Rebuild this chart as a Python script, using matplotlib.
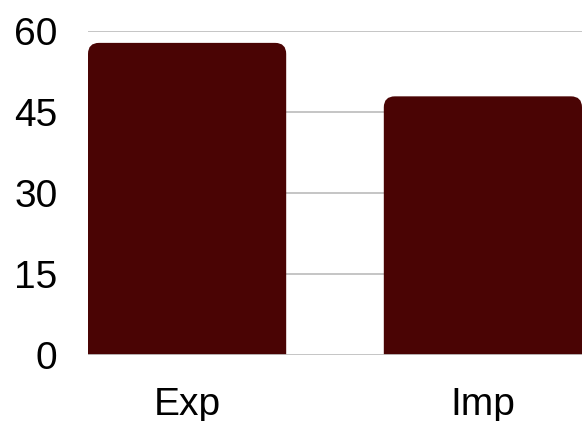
import matplotlib
matplotlib.use("Agg")
import matplotlib.pyplot as plt
from matplotlib.patches import FancyBboxPatch

categories = ["Exp", "Imp"]
values = [57.8, 47.9]
yticks = [0, 15, 30, 45, 60]

W, H = 582, 421
fig = plt.figure(figsize=(W / 100, H / 100), dpi=100)
ax = fig.add_axes([88 / W, (H - 355) / H, (582 - 88) / W, (355 - 31) / H])
plt.rcParams['font.family'] = ['Liberation Sans', 'DejaVu Sans']

bar_w = 0.67
ax.set_xlim(-bar_w / 2, len(categories) - 1 + bar_w / 2)
ax.set_ylim(0, 60)

axw_px = 582 - 88
axh_px = 355 - 31
px_x = axw_px / (len(categories) - 1 + bar_w)  # px per x-unit
px_y = axh_px / 60.0
r_px = 11
rx = r_px / px_x
ry = r_px / px_y
color = "#4a0404"
for i, v in enumerate(values):
    p = FancyBboxPatch((i - bar_w / 2, -ry * 2), bar_w, v + ry * 2,
                       boxstyle=f"round,pad=0,rounding_size={rx}",
                       mutation_aspect=ry / rx,
                       facecolor=color, edgecolor="none", zorder=2)
    ax.add_patch(p)

for t in yticks:
    ax.axhline(t, color="#c0c0c0", lw=1.3, zorder=1 if t else 3)

ax.set_yticks(yticks)
ax.set_yticklabels([str(t) for t in yticks], fontsize=28, family=['Liberation Sans'])
ax.set_xticks(range(len(categories)))
ax.set_xticklabels(categories, fontsize=28, family=['Liberation Sans'])
ax.tick_params(length=0)
ax.tick_params(axis='y', pad=22)
ax.tick_params(axis='x', pad=23)
for s in ax.spines.values():
    s.set_visible(False)

fig.savefig("out.png", dpi=100)
